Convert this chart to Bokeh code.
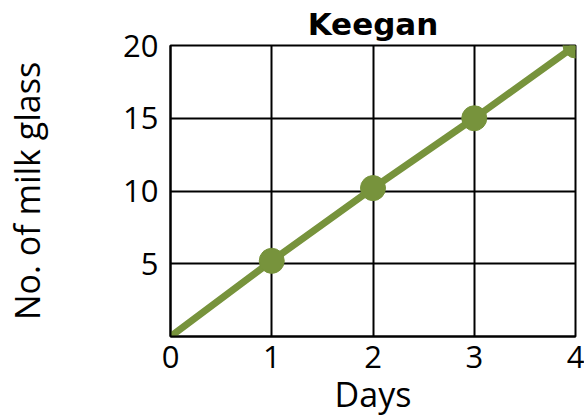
from bokeh.plotting import figure
from bokeh.models import FixedTicker, Range1d
from bokeh.embed import file_html
from bokeh.resources import INLINE

days = [0, 1, 2, 3, 4]
glasses = [0, 5.2, 10.2, 15, 20]
marker_days = [1, 2, 3, 4]
marker_glasses = [5.2, 10.2, 15, 20]
x_ticks = [0, 1, 2, 3, 4]
y_ticks = [5, 10, 15, 20]

GREEN = "#77933C"
FONT = "Open Sans"

p = figure(width=584, height=419, output_backend="svg", toolbar_location=None,
           x_range=Range1d(0, 4), y_range=Range1d(0, 20),
           min_border_left=170, min_border_right=9, min_border_top=45, min_border_bottom=81,
           title="Keegan")
p.title.text_font = "DejaVu Sans"
p.title.text_font_style = "bold"
p.title.text_font_size = "31px"
p.title.align = "center"
p.title.text_color = "black"
p.title.offset = 0
p.title.standoff = 7

p.outline_line_color = "black"
p.outline_line_width = 2
p.outline_line_alpha = 1

for ax in (p.xaxis[0], p.yaxis[0]):
    ax.major_tick_in = 0
    ax.major_tick_out = 0
    ax.minor_tick_in = 0
    ax.minor_tick_out = 0
    ax.axis_line_color = "black"
    ax.axis_line_width = 2
    ax.major_label_text_font = FONT
    ax.major_label_text_font_size = "31px"
    ax.major_label_text_color = "black"
    ax.axis_label_text_font = FONT
    ax.axis_label_text_font_size = "34px"
    ax.axis_label_text_font_style = "normal"
    ax.axis_label_text_color = "black"

p.xaxis.ticker = FixedTicker(ticks=x_ticks)
p.yaxis.ticker = FixedTicker(ticks=y_ticks)
p.xaxis.axis_label = "Days"
p.yaxis.axis_label = "No. of milk glass"
p.xaxis.major_label_standoff = 9
p.yaxis.major_label_standoff = 12
p.xaxis.axis_label_standoff = 0
p.yaxis.axis_label_standoff = 70

p.xgrid.ticker = FixedTicker(ticks=x_ticks)
p.ygrid.ticker = FixedTicker(ticks=y_ticks)
p.grid.grid_line_color = "black"
p.grid.grid_line_width = 2
p.grid.grid_line_alpha = 1

p.line(days, glasses, line_color=GREEN, line_width=7)
p.scatter(marker_days, marker_glasses, size=25, fill_color=GREEN, line_color=GREEN)

p.background_fill_color = "white"
p.border_fill_color = "white"

open("out.html", "w").write(file_html(p, INLINE))
